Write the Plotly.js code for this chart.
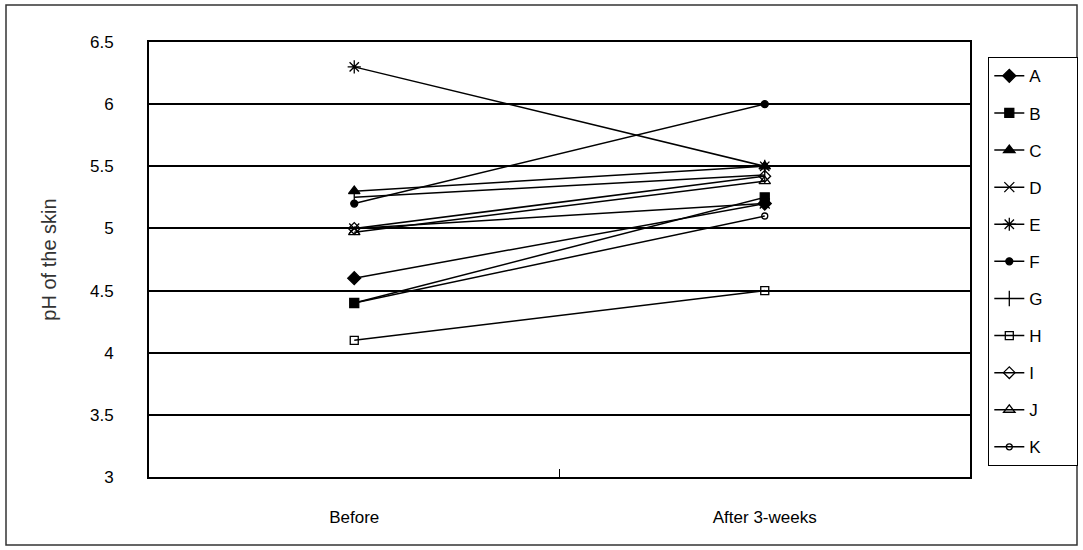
<!DOCTYPE html>
<html>
<head>
<meta charset="utf-8">
<script src="https://cdn.plot.ly/plotly-3.0.1.min.js"></script>
<style>
  html, body { margin: 0; padding: 0; background: #fff; }
  #chart { width: 1083px; height: 550px; }
</style>
</head>
<body>
<div id="chart"></div>
<script>
// Categories (time points)
const timepoints = ["Before", "After 3-weeks"];

// Series names
const seriesNames = ["A", "B", "C", "D", "E", "F", "G", "H", "I", "J", "K"];

// pH values per subject: [Before, After 3-weeks]
const valsA = [4.6, 5.2];
const valsB = [4.4, 5.25];
const valsC = [5.3, 5.5];
const valsD = [5.0, 5.2];
const valsE = [6.3, 5.5];
const valsF = [5.2, 6.0];
const valsG = [5.25, 5.43];
const valsH = [4.1, 4.5];
const valsI = [5.0, 5.42];
const valsJ = [4.97, 5.38];
const valsK = [4.4, 5.1];

const seriesValues = [valsA, valsB, valsC, valsD, valsE, valsF, valsG, valsH, valsI, valsJ, valsK];

// Y-axis ticks
const yTicks = [3, 3.5, 4, 4.5, 5, 5.5, 6, 6.5];

// marker styles (style only)
const markerStyles = [
  {symbol: "diamond", size: 10},
  {symbol: "square", size: 9},
  {symbol: "triangle-up", size: 10},
  {symbol: "x-thin-open", size: 10},
  {symbol: "asterisk-open", size: 11},
  {symbol: "circle", size: 7},
  {symbol: "line-ns-open", size: 11},
  {symbol: "square-open", size: 8},
  {symbol: "diamond-open", size: 9},
  {symbol: "triangle-up-open", size: 10},
  {symbol: "circle-open", size: 6}
];

const narrowFont = "Liberation Sans Narrow, sans-serif";
const legendPad = "\u00a0".repeat(6);

const traces = seriesNames.map((name, i) => ({
  type: "scatter",
  mode: "lines+markers",
  name: name + legendPad,
  legendgroup: name,
  x: timepoints,
  y: seriesValues[i],
  line: {color: "#000", width: 1.5},
  marker: {
    symbol: markerStyles[i].symbol,
    size: markerStyles[i].size,
    color: "#000",
    line: {color: "#000", width: 1.3}
  }
}));

const L = 149, R = 970, T = 42, B = 477, W = 1083, H = 550;
const pw = R - L, ph = B - T;

const layout = {
  width: W,
  height: H,
  margin: {l: L, r: W - R, t: T, b: H - B, autoexpand: false},
  paper_bgcolor: "#fff",
  plot_bgcolor: "#fff",
  showlegend: true,
  legend: {
    x: (988 - L) / pw,
    y: (B - 57) / ph,
    xanchor: "left",
    yanchor: "top",
    bordercolor: "#000",
    borderwidth: 1.3,
    bgcolor: "#fff",
    font: {family: "Liberation Sans, Arial, sans-serif", size: 17, color: "#000"},
    tracegroupgap: 12,
    itemwidth: 30
  },
  xaxis: {
    type: "category",
    range: [-0.5, 1.5],
    tickson: "boundaries",
    ticks: "inside",
    ticklen: 8,
    tickwidth: 1,
    tickcolor: "#000",
    showgrid: false,
    showline: true,
    linecolor: "#000",
    linewidth: 2,
    mirror: true,
    zeroline: false,
    ticklabelstandoff: 24,
    tickfont: {family: narrowFont, size: 17, color: "#000"}
  },
  yaxis: {
    range: [3, 6.5],
    tickvals: yTicks,
    ticktext: yTicks.map(v => String(v)),
    ticks: "",
    showgrid: true,
    gridcolor: "#000",
    gridwidth: 2,
    showline: true,
    linecolor: "#000",
    linewidth: 2,
    mirror: true,
    zeroline: false,
    ticklabelstandoff: 30,
    tickfont: {family: "Liberation Sans, Arial, sans-serif", size: 17, color: "#000"},
    title: {
      text: "pH of the skin",
      font: {family: narrowFont, size: 20, color: "#333"},
      standoff: 28
    }
  },
  shapes: [{
    type: "rect",
    xref: "paper", yref: "paper",
    x0: (6 - L) / pw, x1: (1077 - L) / pw,
    y0: (B - 545) / ph, y1: (B - 5) / ph,
    line: {color: "#333", width: 1.5},
    fillcolor: "rgba(0,0,0,0)",
    layer: "below"
  }]
};

Plotly.newPlot("chart", traces, layout, {displayModeBar: false, staticPlot: true});
</script>
</body>
</html>
